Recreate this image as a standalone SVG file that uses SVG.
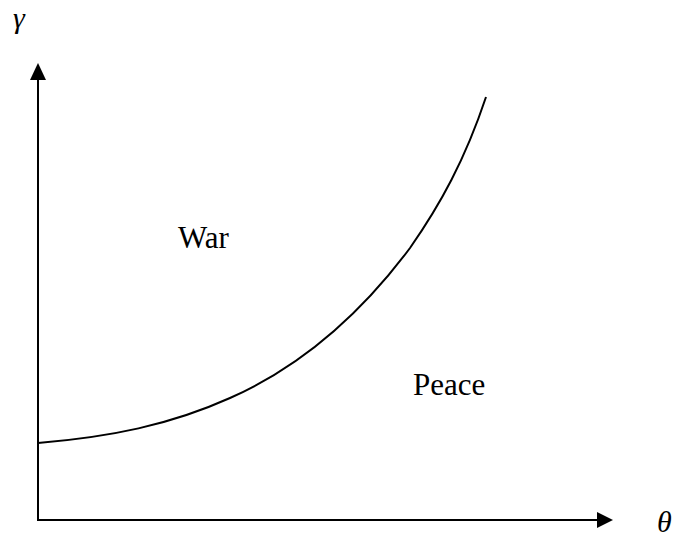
<svg xmlns="http://www.w3.org/2000/svg" width="678" height="537" viewBox="0 0 678 537">
<style>
.ax{stroke:#000;stroke-width:2;fill:none}
.cv{stroke:#000;stroke-width:2;fill:none}
.hd{fill:#000;stroke:none}
.t{font-family:"Liberation Serif",serif;font-size:31px;fill:#000}
.i{font-style:italic;font-size:30px}
</style>
<rect width="678" height="537" fill="#fff"/>
<g id="connectors">
<line class="ax" x1="38" y1="521" x2="38" y2="78"/>
<polygon class="hd" points="38,63 46,80 30,80"/>
<line class="ax" x1="37" y1="520" x2="599" y2="520"/>
<polygon class="hd" points="613,520 597,512 597,528"/>
<path class="cv" d="M38,443 C110,437 170,425 230,398 C300,367 360,315 410,248 C440,205 465,160 486,97"/>
</g>
<g id="labels">
<text class="t i" x="13" y="28">γ</text>
<text class="t i" x="657" y="532">θ</text>
<text class="t" x="178" y="248">War</text>
<text class="t" x="413" y="395">Peace</text>
</g>
</svg>
